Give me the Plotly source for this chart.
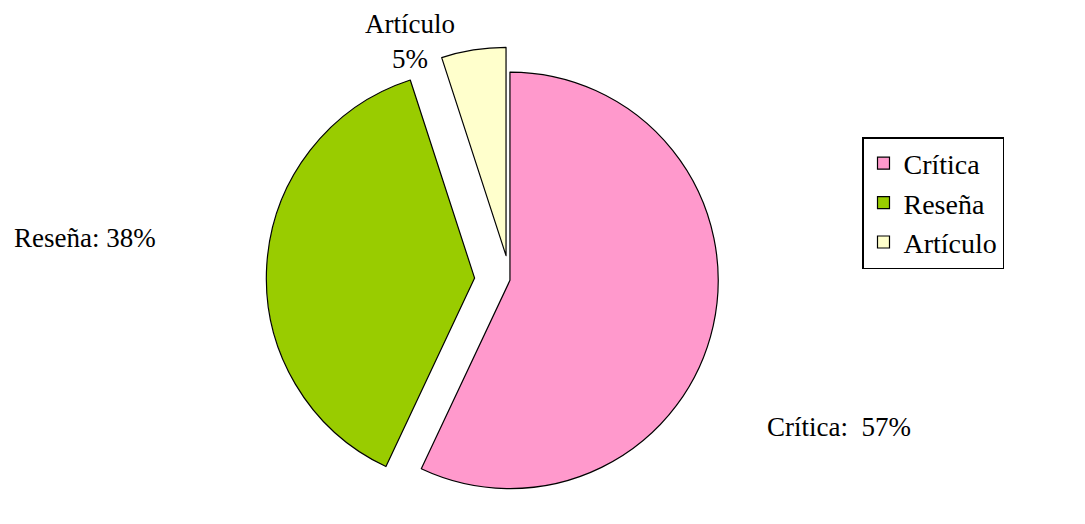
import plotly.graph_objects as go

labels = ["Crítica", "Reseña", "Artículo"]
values = [57, 38, 5]
colors = ["#FF99CC", "#99CC00", "#FFFFCC"]
pulls = [0, 0.17, 0.12]

label_texts = ["Crítica:\u00a0\u00a057%", "Reseña: 38%", "Artículo<br>5%"]

W, H = 1085, 524
FONT = "Liberation Serif, Times New Roman, serif"

fig = go.Figure(go.Pie(
    labels=labels,
    values=values,
    sort=False,
    direction="clockwise",
    rotation=0,
    pull=pulls,
    marker=dict(colors=colors, line=dict(color="#000000", width=1.2)),
    textinfo="none",
    hoverinfo="label+percent",
    domain=dict(x=[0.17, 0.77], y=[0.0, 0.93]),
))

fig.add_annotation(x=765 / W, y=1 - 427 / H, xref="paper", yref="paper",
                   text=label_texts[0], showarrow=False, xanchor="left", yanchor="middle",
                   font=dict(family=FONT, size=27, color="#000000"))
fig.add_annotation(x=12 / W, y=1 - 238 / H, xref="paper", yref="paper",
                   text=label_texts[1], showarrow=False, xanchor="left", yanchor="middle",
                   font=dict(family=FONT, size=27, color="#000000"))
fig.add_annotation(x=410 / W, y=1 - 42 / H, xref="paper", yref="paper",
                   text=label_texts[2], showarrow=False, xanchor="center", yanchor="middle",
                   font=dict(family=FONT, size=27, color="#000000"))

fig.update_layout(
    width=W, height=H,
    margin=dict(l=0, r=0, t=0, b=0),
    paper_bgcolor="#FFFFFF",
    plot_bgcolor="#FFFFFF",
    showlegend=True,
    legend=dict(
        x=862 / W, y=1 - 137 / H, xanchor="left", yanchor="top",
        bordercolor="#000000", borderwidth=1.5, bgcolor="#FFFFFF",
        font=dict(family=FONT, size=28, color="#000000"),
        itemwidth=30,
    ),
)

fig.write_html("out.html")
